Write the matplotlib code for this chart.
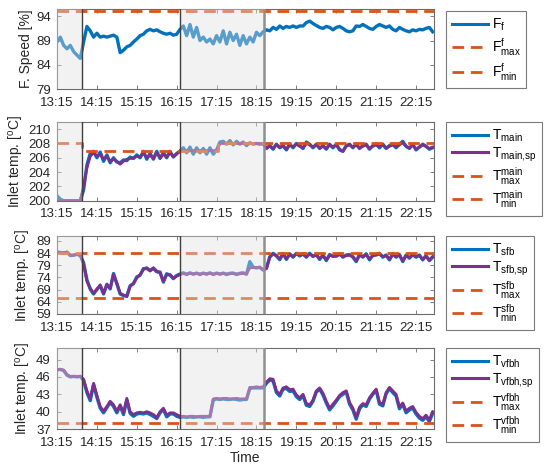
import numpy as np
import matplotlib
matplotlib.use("Agg")
import matplotlib.pyplot as plt
from matplotlib.lines import Line2D

plt.rcParams["font.family"] = ["Liberation Sans", "DejaVu Sans"]
plt.rcParams["mathtext.fontset"] = "custom"
plt.rcParams["mathtext.rm"] = "Liberation Sans"
plt.rcParams["mathtext.it"] = "Liberation Sans:italic"
plt.rcParams["font.size"] = 10

BLUE = "#0072BD"
PURPLE = "#7E2F8E"
ORANGE = "#D95319"

# ---- data -----------------------------------------------------------------
# sample times in minutes after 13:15 (5-minute log)
minutes = np.arange(0, 570, 5)
x_end = 567
tick_minutes = [0, 60, 120, 180, 240, 300, 360, 420, 480, 540]
tick_labels = ["13:15", "14:15", "15:15", "16:15", "17:15",
               "18:15", "19:15", "20:15", "21:15", "22:15"]
# periods without active control (minutes after 13:15)
shade_periods = [(0, 38), (185, 311)]

# fan speed [%]
fan_speed = [88.7, 89.7, 88.0, 87.3, 88.0, 86.7, 86.0, 85.3, 88.7, 91.9,
             91.0, 89.7, 90.5, 89.7, 89.9, 89.7, 89.9, 90.1, 89.7, 86.5,
             87.0, 87.7, 88.0, 88.7, 89.3, 90.0, 90.3, 91.0, 91.3, 91.0,
             91.2, 90.8, 90.5, 90.3, 90.5, 90.1, 90.3, 91.3, 92.0, 90.0,
             92.3, 89.7, 91.7, 89.0, 89.7, 88.7, 89.3, 88.3, 90.0, 88.7,
             91.0, 88.3, 90.7, 89.0, 90.3, 88.0, 90.0, 88.3, 89.7, 88.7,
             90.7, 90.0, 90.8, 91.2, 91.0, 91.7, 91.3, 92.0, 91.5, 91.9,
             91.7, 92.0, 91.7, 92.0, 92.0, 92.7, 93.0, 92.5, 92.1, 91.7,
             91.5, 91.9, 91.7, 91.2, 91.7, 91.9, 91.5, 91.0, 90.8, 91.0,
             92.0, 91.9, 92.3, 91.9, 91.5, 91.3, 91.9, 92.3, 92.0, 91.7,
             92.0, 91.3, 91.0, 91.7, 91.3, 91.0, 90.8, 91.2, 91.0, 91.3,
             91.2, 91.5, 91.7, 90.8]
fan_max = 95.0
fan_min = 75.0        # below the plotted range

# main inlet temperature [degC]
t_main = [200.7, 200.2, 200.0, 200.0, 200.0, 200.0, 200.0, 200.0, 201.5, 205.0,
          206.6, 206.9, 206.0, 206.8, 205.5, 206.4, 205.3, 206.0, 205.4, 205.3,
          205.7, 205.6, 206.1, 205.9, 206.4, 206.0, 206.9, 205.8, 206.6, 205.8,
          206.9, 205.9, 206.7, 206.0, 206.9, 206.1, 206.6, 206.9, 207.4, 206.7,
          207.5, 206.5, 207.4, 206.7, 207.3, 206.5, 207.4, 206.5, 207.1, 208.2,
          208.3, 207.9, 208.4, 207.8, 208.3, 207.9, 208.2, 207.7, 208.1, 207.9,
          208.0, 207.9, 208.0, 207.3, 207.7, 207.2, 207.9, 207.4, 207.7, 207.1,
          207.9, 207.4, 208.0, 207.7, 207.3, 208.2, 207.9, 207.4, 207.9, 207.3,
          207.7, 207.2, 207.9, 207.4, 207.9, 207.1, 206.9, 207.7, 207.9, 207.4,
          207.9, 207.3, 207.7, 207.9, 207.2, 207.7, 207.9, 207.4, 207.9, 207.3,
          207.7, 207.9, 207.4, 207.9, 208.3, 207.6, 207.3, 207.9, 207.1, 207.5,
          207.9, 207.6, 207.2, 207.4]
t_main_sp = [200.0, 200.0, 200.0, 200.0, 200.0, 200.0, 200.0, 200.0, 202.0, 204.6,
             206.2, 206.7, 206.2, 206.5, 205.8, 206.2, 205.5, 205.8, 205.5, 205.1,
             205.5, 205.8, 205.9, 206.0, 206.2, 206.1, 206.7, 206.0, 206.4, 205.9,
             206.7, 206.0, 206.5, 206.1, 206.7, 206.2, 206.5, 207.0, 207.0, 207.0,
             207.0, 207.0, 207.0, 207.0, 207.0, 207.0, 207.0, 207.0, 207.0, 208.0,
             208.0, 208.0, 208.0, 208.0, 208.0, 208.0, 208.0, 208.0, 208.0, 208.0,
             208.0, 208.0, 207.9, 207.4, 207.6, 207.3, 207.8, 207.5, 207.6, 207.2,
             207.8, 207.5, 207.9, 207.6, 207.4, 208.0, 207.8, 207.5, 207.8, 207.4,
             207.6, 207.3, 207.8, 207.5, 207.8, 207.2, 206.9, 207.6, 207.8, 207.5,
             207.8, 207.4, 207.6, 207.8, 207.3, 207.6, 207.8, 207.5, 207.8, 207.4,
             207.6, 207.8, 207.5, 207.8, 208.1, 207.6, 207.4, 207.8, 207.2, 207.5,
             207.8, 207.6, 207.3, 207.5]
main_max_t = [0, 38, 38, 242, 242, x_end]
main_max_v = [208.0, 208.0, 207.0, 207.0, 208.0, 208.0]
main_min = 195.0      # below the plotted range

# sfb inlet temperature [degC]
t_sfb = [84.5, 84.2, 84.0, 84.4, 83.0, 83.1, 83.5, 83.1, 80.0, 73.0,
         69.2, 67.2, 69.2, 70.6, 67.2, 71.2, 69.3, 75.6, 71.4, 67.2,
         66.6, 66.4, 70.6, 71.4, 74.2, 74.9, 77.6, 77.7, 76.9, 77.7,
         76.3, 76.2, 72.1, 75.5, 74.9, 73.5, 74.8, 75.4, 75.9, 75.2,
         75.9, 75.3, 75.8, 75.2, 75.8, 75.3, 75.9, 75.2, 75.8, 75.3,
         75.8, 75.2, 75.7, 75.8, 75.2, 75.7, 75.9, 75.3, 80.5, 78.2,
         77.9, 78.2, 77.0, 77.8, 82.5, 83.9, 82.8, 81.3, 83.8, 81.4,
         83.7, 82.3, 83.9, 82.8, 83.7, 82.3, 83.9, 82.6, 83.4, 81.4,
         83.2, 80.9, 83.4, 82.6, 82.9, 83.7, 82.3, 83.2, 83.4, 82.3,
         80.5, 83.4, 82.3, 83.7, 81.2, 83.2, 83.4, 83.9, 82.3, 83.2,
         81.2, 83.7, 82.3, 83.4, 80.5, 83.2, 81.9, 83.4, 82.3, 83.2,
         81.2, 82.9, 80.9, 82.3]
t_sfb_sp = [84.3, 84.3, 84.2, 84.3, 83.1, 83.2, 83.4, 83.0, 79.5, 72.4,
            69.6, 67.5, 68.9, 71.0, 67.5, 71.0, 69.6, 75.2, 71.7, 67.5,
            66.8, 66.1, 70.3, 71.7, 73.8, 75.2, 77.3, 78.0, 76.6, 78.0,
            76.6, 75.9, 72.4, 75.2, 75.2, 73.8, 74.5, 75.2, 75.6, 75.4,
            75.7, 75.5, 75.6, 75.4, 75.6, 75.5, 75.7, 75.4, 75.6, 75.5,
            75.6, 75.4, 75.5, 75.6, 75.4, 75.5, 75.6, 75.5, 78.0, 78.0,
            78.1, 78.0, 77.3, 77.6, 82.2, 83.6, 83.1, 81.5, 83.6, 81.7,
            83.4, 82.6, 83.6, 83.1, 83.4, 82.6, 83.6, 82.9, 83.1, 81.7,
            82.9, 81.2, 83.1, 82.9, 82.6, 83.4, 82.6, 82.9, 83.1, 82.6,
            80.8, 83.1, 82.6, 83.4, 81.5, 82.9, 83.1, 83.6, 82.6, 82.9,
            81.5, 83.4, 82.6, 83.1, 80.8, 82.9, 82.2, 83.1, 82.6, 82.9,
            81.5, 82.6, 81.2, 82.6]
sfb_max = 84.0
sfb_min = 65.5

# vfbh inlet temperature [degC]
t_vfbh = [47.2, 47.3, 47.1, 46.3, 46.0, 46.1, 46.0, 46.1, 45.4, 43.3,
          41.9, 44.7, 42.5, 40.6, 39.8, 40.7, 41.6, 40.9, 39.8, 41.0,
          39.5, 42.0, 39.7, 39.2, 39.6, 39.7, 39.6, 39.8, 39.5, 39.2,
          38.8, 39.8, 40.4, 39.1, 39.6, 39.6, 39.2, 39.0, 39.1, 39.0,
          39.1, 39.0, 39.1, 39.1, 39.0, 39.1, 39.1, 42.0, 42.2, 42.1,
          42.2, 42.1, 42.1, 42.2, 42.1, 42.0, 42.1, 42.1, 44.0, 44.1,
          44.1, 44.1, 44.1, 44.9, 45.5, 45.3, 43.3, 42.7, 43.9, 44.0,
          43.5, 43.6, 42.6, 42.1, 42.8, 41.1, 40.9, 41.8, 43.4, 43.9,
          42.9, 41.5, 40.3, 41.0, 41.8, 42.6, 43.0, 43.4, 41.3, 40.3,
          38.7, 40.5, 41.2, 40.9, 42.2, 43.0, 43.7, 41.3, 41.0, 43.1,
          44.0, 43.3, 42.7, 40.5, 41.3, 39.8, 40.3, 40.6, 39.6, 38.9,
          38.5, 39.1, 38.3, 39.7]
t_vfbh_sp = [47.3, 47.3, 47.2, 46.4, 46.1, 46.1, 46.1, 46.1, 45.6, 43.6,
             42.2, 44.9, 42.8, 40.9, 40.1, 40.9, 41.8, 41.2, 40.1, 41.2,
             39.8, 42.3, 40.0, 39.5, 39.8, 39.9, 39.8, 40.0, 39.8, 39.5,
             39.0, 40.0, 40.6, 39.4, 39.8, 39.8, 39.5, 39.2, 39.2, 39.1,
             39.2, 39.2, 39.1, 39.2, 39.2, 39.2, 39.2, 42.2, 42.3, 42.2,
             42.3, 42.3, 42.2, 42.2, 42.3, 42.2, 42.2, 42.2, 44.2, 44.2,
             44.3, 44.2, 44.3, 45.1, 45.7, 45.6, 43.6, 43.0, 44.1, 44.3,
             43.8, 43.9, 42.9, 42.4, 43.0, 41.4, 41.2, 42.0, 43.6, 44.1,
             43.2, 41.8, 40.6, 41.3, 42.0, 42.8, 43.3, 43.6, 41.6, 40.6,
             39.0, 40.8, 41.4, 41.2, 42.4, 43.2, 43.9, 41.6, 41.3, 43.3,
             44.2, 43.6, 43.0, 40.8, 41.5, 40.1, 40.6, 40.9, 39.9, 39.2,
             38.8, 39.4, 38.6, 40.0]
vfbh_max = 52.0       # above the plotted range
vfbh_min = 38.0

# ---- figure ---------------------------------------------------------------
W, H = 546, 474
fig = plt.figure(figsize=(W / 100, H / 100), dpi=100)

SPINE = "#6b6b6b"
DASH = (0, (4.2, 2.4))


def fig_rect(left, top, right, bottom):
    return [left / W, 1 - bottom / H, (right - left) / W, (bottom - top) / H]


def make_panel(box, measured, setpoint, limits, ylim, yticks, ylabel,
               labels, legend_top, spacing):
    ax = fig.add_axes(fig_rect(*box))
    ax.plot(minutes, measured, color=BLUE, lw=2.4, zorder=2,
            solid_joinstyle="round")
    handles = [Line2D([], [], color=BLUE, lw=2.2)]
    if setpoint is not None:
        ax.plot(minutes, setpoint, color=PURPLE, lw=2.0, zorder=3,
                solid_joinstyle="round")
        handles.append(Line2D([], [], color=PURPLE, lw=2.2))
    for tt, vv in limits:
        ax.plot(tt, vv, color=ORANGE, lw=2.0, ls=DASH, zorder=4)
        handles.append(Line2D([], [], color=ORANGE, lw=2.0, ls=DASH))

    # translucent overlay marking the uncontrolled periods
    for a, b in shade_periods:
        ax.axvspan(a, b, facecolor=(0.88, 0.88, 0.88), alpha=0.4, lw=0,
                   zorder=5)
    ax.axvline(shade_periods[0][1], color="#3f3f3f", lw=1.0, zorder=6)
    ax.axvline(shade_periods[1][0], color="#3f3f3f", lw=1.0, zorder=6)
    ax.axvline(shade_periods[1][1], color="#8f8f8f", lw=1.8, zorder=6)

    ax.set_xlim(0, x_end)
    ax.set_ylim(*ylim)
    ax.set_xticks(tick_minutes)
    ax.set_xticklabels(tick_labels)
    ax.set_yticks(yticks)
    ax.tick_params(direction="in", top=True, right=True, length=3,
                   width=0.6, color=SPINE, labelcolor="#262626",
                   labelsize=9.5)
    ax.tick_params(axis="x", pad=5.5)
    ax.tick_params(axis="y", pad=4.5)
    for s in ax.spines.values():
        s.set_color(SPINE)
        s.set_linewidth(0.8)
    ax.set_ylabel(ylabel, color="#262626", labelpad=2)

    leg = ax.legend(handles, labels, loc="upper left",
                    bbox_to_anchor=(446 / W, 1 - legend_top / H),
                    bbox_transform=fig.transFigure, borderaxespad=0,
                    fancybox=False, framealpha=1, edgecolor="#7a7a7a",
                    handlelength=2.6, handletextpad=0.3,
                    labelspacing=spacing, borderpad=0.4, fontsize=10)
    leg.get_frame().set_linewidth(0.8)
    return ax


make_panel((57, 9, 434, 89), fan_speed, None,
           [([0, x_end], [fan_max, fan_max]), ([0, x_end], [fan_min, fan_min])],
           (79, 95.5), [79, 84, 89, 94], "F. Speed [%]",
           [r"F$_\mathregular{f}$",
            r"F$^\mathregular{f}_\mathregular{max}$",
            r"F$^\mathregular{f}_\mathregular{min}$"], 11, 0.22)

make_panel((57, 122, 434, 200.7), t_main, t_main_sp,
           [(main_max_t, main_max_v), ([0, x_end], [main_min, main_min])],
           (200, 211), [200, 202, 204, 206, 208, 210],
           r"Inlet temp. [$^\mathregular{o}$C]",
           [r"T$_\mathregular{main}$", r"T$_\mathregular{main{,}sp}$",
            r"T$^\mathregular{main}_\mathregular{max}$",
            r"T$^\mathregular{main}_\mathregular{min}$"], 122, 0.1)

make_panel((57, 236, 434, 314), t_sfb, t_sfb_sp,
           [([0, x_end], [sfb_max, sfb_max]), ([0, x_end], [sfb_min, sfb_min])],
           (59, 91), [59, 64, 69, 74, 79, 84, 89],
           r"Inlet temp. [$^\mathregular{o}$C]",
           [r"T$_\mathregular{sfb}$", r"T$_\mathregular{sfb{,}sp}$",
            r"T$^\mathregular{sfb}_\mathregular{max}$",
            r"T$^\mathregular{sfb}_\mathregular{min}$"], 236, 0.1)

ax4 = make_panel((57, 348, 434, 429), t_vfbh, t_vfbh_sp,
                 [([0, x_end], [vfbh_max, vfbh_max]),
                  ([0, x_end], [vfbh_min, vfbh_min])],
                 (37, 51), [37, 40, 43, 46, 49],
                 r"Inlet temp. [$^\mathregular{o}$C]",
                 [r"T$_\mathregular{vfbh}$", r"T$_\mathregular{vfbh{,}sp}$",
                  r"T$^\mathregular{vfbh}_\mathregular{max}$",
                  r"T$^\mathregular{vfbh}_\mathregular{min}$"], 348, 0.1)
ax4.set_xlabel("Time", color="#262626", labelpad=1.5)

fig.savefig("out.png", dpi=100)
